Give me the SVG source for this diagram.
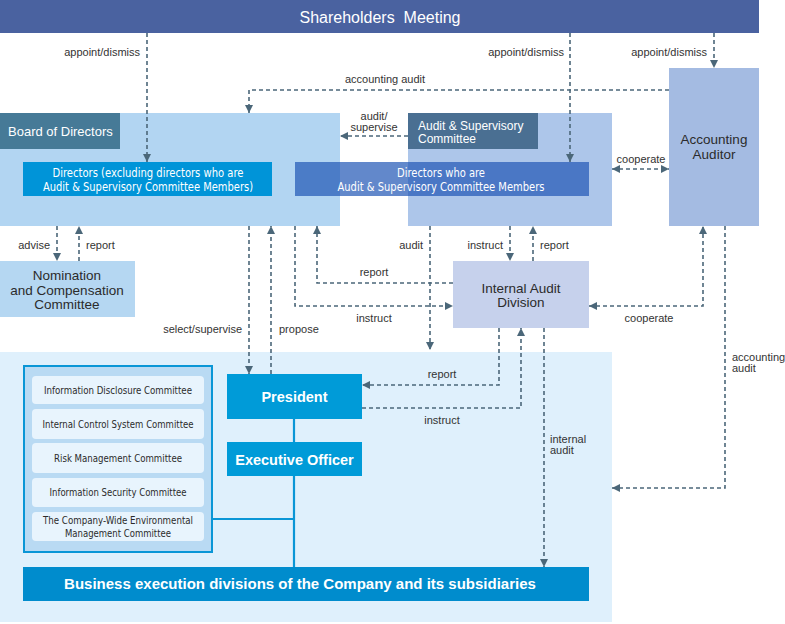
<svg xmlns="http://www.w3.org/2000/svg" width="785" height="624" viewBox="0 0 785 624">
<style>
.lbl{font-family:"Liberation Sans",Arial,sans-serif;font-size:11px;fill:#333}
.dk{font-family:"Liberation Sans",Arial,sans-serif;fill:#2b2b2b}
.wt{font-family:"Liberation Sans",Arial,sans-serif;fill:#fff}
.cond{font-family:"Liberation Sans Narrow","DejaVu Sans Condensed","Liberation Sans",sans-serif;font-stretch:condensed}
.dash{fill:none;stroke:#4b6779;stroke-width:1.6;stroke-dasharray:4 3}
.solid{fill:none;stroke:#0a96d6;stroke-width:2.2}
.cbox{fill:#e8f4fd}
</style>
<defs>
<marker id="ah" viewBox="0 0 8 8" markerWidth="8" markerHeight="8" refX="8" refY="4" orient="auto-start-reverse" markerUnits="userSpaceOnUse">
<path d="M0,0 L8,4 L0,8 z" fill="#4b6779"/>
</marker>
</defs>
<rect width="785" height="624" fill="#fff"/>

<g id="shareholders">
<rect x="0" y="0" width="759" height="33" fill="#4a62a0"/>
<text class="wt" x="380" y="23" font-size="16" text-anchor="middle" xml:space="preserve">Shareholders  Meeting</text>
</g>

<g id="lower-region">
<rect x="0" y="352" width="612" height="270" fill="#dff0fc"/>
</g>

<g id="board">
<rect x="0" y="113" width="340" height="113" fill="#b2d5f2"/>
<rect x="0" y="113" width="120" height="36" fill="#467a97"/>
<text class="wt" x="8" y="136" font-size="13">Board of Directors</text>
</g>

<g id="asc">
<rect x="408" y="113" width="204" height="113" fill="#adc6ea"/>
<rect x="408" y="113" width="130" height="36" fill="#4a6f92"/>
<text class="wt" x="418" y="130" font-size="12">Audit &amp; Supervisory</text>
<text class="wt" x="418" y="143" font-size="12">Committee</text>
</g>

<g id="directors-excl">
<rect x="23" y="162" width="249" height="34" fill="#0094d8"/>
<text class="wt cond" x="148" y="177" font-size="12" text-anchor="middle" textLength="191" lengthAdjust="spacingAndGlyphs">Directors (excluding directors who are</text>
<text class="wt cond" x="148" y="191" font-size="12" text-anchor="middle" textLength="210" lengthAdjust="spacingAndGlyphs">Audit &amp; Supervisory Committee Members)</text>
</g>

<g id="directors-asc">
<rect x="295" y="162" width="294" height="34" fill="#1f55b5" fill-opacity="0.7"/>
<text class="wt cond" x="441" y="177" font-size="12" text-anchor="middle" textLength="88" lengthAdjust="spacingAndGlyphs">Directors who are</text>
<text class="wt cond" x="441" y="191" font-size="12" text-anchor="middle" textLength="207" lengthAdjust="spacingAndGlyphs">Audit &amp; Supervisory Committee Members</text>
</g>

<g id="accounting-auditor">
<rect x="669" y="68" width="90" height="158" fill="#a4bbe2"/>
<text class="dk" x="714" y="144" font-size="13.5" text-anchor="middle">Accounting</text>
<text class="dk" x="714" y="159" font-size="13.5" text-anchor="middle">Auditor</text>
</g>

<g id="nomination">
<rect x="0" y="261" width="135" height="56" fill="#b5d7f2"/>
<text class="dk" x="67" y="280" font-size="13.5" text-anchor="middle">Nomination</text>
<text class="dk" x="67" y="295" font-size="13.5" text-anchor="middle">and Compensation</text>
<text class="dk" x="67" y="309" font-size="13.5" text-anchor="middle">Committee</text>
</g>

<g id="internal-audit">
<rect x="453" y="261" width="136" height="67" fill="#c6d1ec"/>
<text class="dk" x="521" y="293" font-size="13.5" text-anchor="middle">Internal Audit</text>
<text class="dk" x="521" y="307" font-size="13.5" text-anchor="middle">Division</text>
</g>

<g id="committees">
<rect x="24" y="366" width="188" height="186" fill="#b9daf3" stroke="#0a96d6" stroke-width="2"/>
<rect class="cbox" x="32" y="376" width="172" height="28" rx="4"/>
<rect class="cbox" x="32" y="409" width="172" height="30" rx="4"/>
<rect class="cbox" x="32" y="443" width="172" height="30" rx="4"/>
<rect class="cbox" x="32" y="478" width="172" height="29" rx="4"/>
<rect class="cbox" x="32" y="512" width="172" height="29" rx="4"/>
<text class="dk cond" x="118" y="394" font-size="11" text-anchor="middle" textLength="148" lengthAdjust="spacingAndGlyphs">Information Disclosure Committee</text>
<text class="dk cond" x="118" y="428" font-size="11" text-anchor="middle" textLength="151" lengthAdjust="spacingAndGlyphs">Internal Control System Committee</text>
<text class="dk cond" x="118" y="462" font-size="11" text-anchor="middle" textLength="128" lengthAdjust="spacingAndGlyphs">Risk Management Committee</text>
<text class="dk cond" x="118" y="496" font-size="11" text-anchor="middle" textLength="137" lengthAdjust="spacingAndGlyphs">Information Security Committee</text>
<text class="dk cond" x="118" y="524" font-size="11" text-anchor="middle" textLength="150" lengthAdjust="spacingAndGlyphs">The Company-Wide Environmental</text>
<text class="dk cond" x="118" y="537" font-size="11" text-anchor="middle" textLength="106" lengthAdjust="spacingAndGlyphs">Management Committee</text>
</g>

<g id="solid-links">
<path class="solid" d="M294,419 V442 M294,476 V567 M212,519 H294"/>
</g>

<g id="president">
<rect x="227" y="374" width="135" height="45" fill="#009bd8"/>
<text class="wt" x="294.5" y="402" font-size="14.5" font-weight="bold" text-anchor="middle">President</text>
</g>

<g id="executive-officer">
<rect x="227" y="442" width="135" height="34" fill="#009bd8"/>
<text class="wt" x="294.5" y="465" font-size="14.5" font-weight="bold" text-anchor="middle">Executive Officer</text>
</g>

<g id="business">
<rect x="23" y="567" width="566" height="34" fill="#008ccd"/>
<text class="wt" x="300" y="589" font-size="15" font-weight="bold" text-anchor="middle">Business execution divisions of the Company and its subsidiaries</text>
</g>

<g id="connectors">
<path class="dash" marker-end="url(#ah)" d="M147,33 V162"/>
<path class="dash" marker-end="url(#ah)" d="M570,33 V162"/>
<path class="dash" marker-end="url(#ah)" d="M714,33 V68"/>
<path class="dash" marker-end="url(#ah)" d="M669,90 H249 V113"/>
<path class="dash" marker-end="url(#ah)" d="M408,136 H340"/>
<path class="dash" marker-start="url(#ah)" marker-end="url(#ah)" d="M612,169 H669"/>
<path class="dash" marker-end="url(#ah)" d="M57,226 V261"/>
<path class="dash" marker-end="url(#ah)" d="M79,261 V226"/>
<path class="dash" marker-end="url(#ah)" d="M249,226 V374"/>
<path class="dash" marker-end="url(#ah)" d="M271,374 V226"/>
<path class="dash" marker-end="url(#ah)" d="M295,226 V306 H453"/>
<path class="dash" marker-end="url(#ah)" d="M453,283 H317 V226"/>
<path class="dash" marker-end="url(#ah)" d="M430,226 V350"/>
<path class="dash" marker-end="url(#ah)" d="M510,226 V261"/>
<path class="dash" marker-end="url(#ah)" d="M533,261 V226"/>
<path class="dash" marker-start="url(#ah)" marker-end="url(#ah)" d="M589,306 H703 V226"/>
<path class="dash" marker-end="url(#ah)" d="M499,328 V385 H362"/>
<path class="dash" marker-end="url(#ah)" d="M362,408 H521 V328"/>
<path class="dash" marker-end="url(#ah)" d="M544,328 V567"/>
<path class="dash" marker-end="url(#ah)" d="M725,226 V488 H612"/>
</g>

<g id="connector-labels">
<text class="lbl" x="140" y="56" text-anchor="end">appoint/dismiss</text>
<text class="lbl" x="564" y="56" text-anchor="end">appoint/dismiss</text>
<text class="lbl" x="707" y="56" text-anchor="end">appoint/dismiss</text>
<text class="lbl" x="385" y="83" text-anchor="middle">accounting audit</text>
<text class="lbl" x="374" y="120" text-anchor="middle">audit/</text>
<text class="lbl" x="374" y="131" text-anchor="middle">supervise</text>
<text class="lbl" x="641" y="163" text-anchor="middle">cooperate</text>
<text class="lbl" x="50" y="249" text-anchor="end">advise</text>
<text class="lbl" x="86" y="249">report</text>
<text class="lbl" x="242" y="333" text-anchor="end">select/supervise</text>
<text class="lbl" x="279" y="333">propose</text>
<text class="lbl" x="374" y="276" text-anchor="middle">report</text>
<text class="lbl" x="374" y="322" text-anchor="middle">instruct</text>
<text class="lbl" x="423" y="249" text-anchor="end">audit</text>
<text class="lbl" x="503" y="249" text-anchor="end">instruct</text>
<text class="lbl" x="540" y="249">report</text>
<text class="lbl" x="649" y="322" text-anchor="middle">cooperate</text>
<text class="lbl" x="442" y="378" text-anchor="middle">report</text>
<text class="lbl" x="442" y="424" text-anchor="middle">instruct</text>
<text class="lbl" x="550" y="443">internal</text>
<text class="lbl" x="550" y="454">audit</text>
<text class="lbl" x="732" y="361">accounting</text>
<text class="lbl" x="732" y="372">audit</text>
</g>
</svg>
